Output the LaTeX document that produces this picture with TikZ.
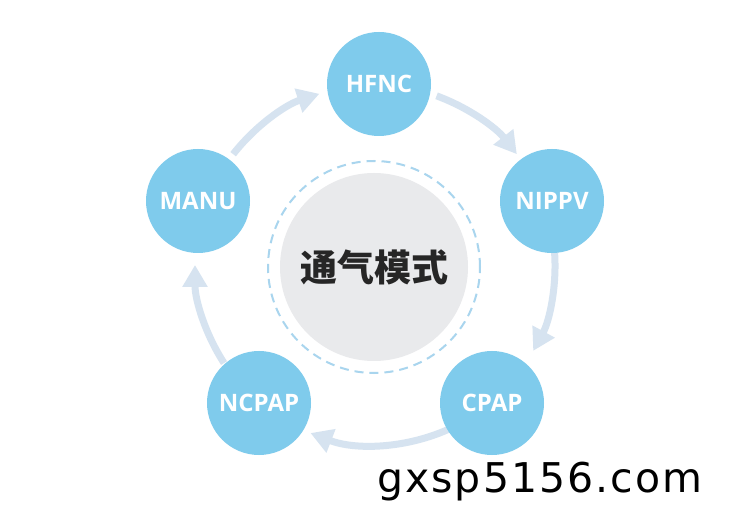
\documentclass[tikz,border=0pt]{standalone}
\usepackage{fontspec}
\setmainfont{Open Sans}
\newfontfamily\cjk{Noto Sans CJK SC}
\newfontfamily\wmfont[LetterSpace=5]{DejaVu Sans}
\usetikzlibrary{arrows.meta,calc}
\definecolor{nodeblue}{HTML}{7FCBEC}
\definecolor{arrowc}{HTML}{D6E3F0}
\definecolor{centergray}{HTML}{E9EAEC}
\definecolor{dashc}{HTML}{A9D5EE}
\tikzset{
  mode/.style={circle, fill=nodeblue, minimum size=104pt, inner sep=0pt,
    text=white, font=\fontsize{24}{24}\selectfont\bfseries},
  arr/.style={draw=arrowc, line width=7pt,
    -{Triangle[width=24pt,length=22pt]}},
}
\begin{document}
\begin{tikzpicture}[x=1pt,y=1pt]
\fill[white] (0,0) rectangle (750,520);
\useasboundingbox (0,0) rectangle (750,520);
\coordinate (O) at (375,255);
% arrow start points on the ring
\coordinate (s1) at ($(O)+(70:180)$);
\coordinate (s2) at ($(O)+(4:180)$);
\coordinate (s3) at ($(O)+(-66:180)$);
\coordinate (s4) at ($(O)+(-147:180)$);
\coordinate (s5) at ($(O)+(142:180)$);
\draw[arr] (s1) arc[start angle=70, end angle=38, radius=180];
\draw[arr] (s2) arc[start angle=4, end angle=-28.5, radius=180];
\draw[arr] (s3) arc[start angle=-66, end angle=-111, radius=180];
\draw[arr] (s4) arc[start angle=-147, end angle=-180, radius=180];
\draw[arr] (s5) arc[start angle=142, end angle=108, radius=180];
% centre
\node[circle, draw=dashc, line width=2pt, dash pattern=on 9pt off 6pt,
  minimum size=212pt, inner sep=0pt] (ring) at (374,253) {};
\node[circle, fill=centergray, minimum size=188pt, inner sep=0pt,
  font=\cjk\fontsize{37}{37}\selectfont\bfseries, text=black!85] (center) at (374,253) {通气模式};
% modes
\node[mode] (hfnc) at (379,436) {HFNC};
\node[mode] (nippv) at (552,319) {NIPPV};
\node[mode] (cpap) at (492,117) {CPAP};
\node[mode] (ncpap) at (259,117) {NCPAP};
\node[mode] (manu) at (198,319) {MANU};
% watermark
\node[anchor=base west, inner sep=0pt, font=\wmfont\fontsize{41}{41}\selectfont] (wm) at (377,28) {gxsp5156.com};
\end{tikzpicture}
\end{document}
